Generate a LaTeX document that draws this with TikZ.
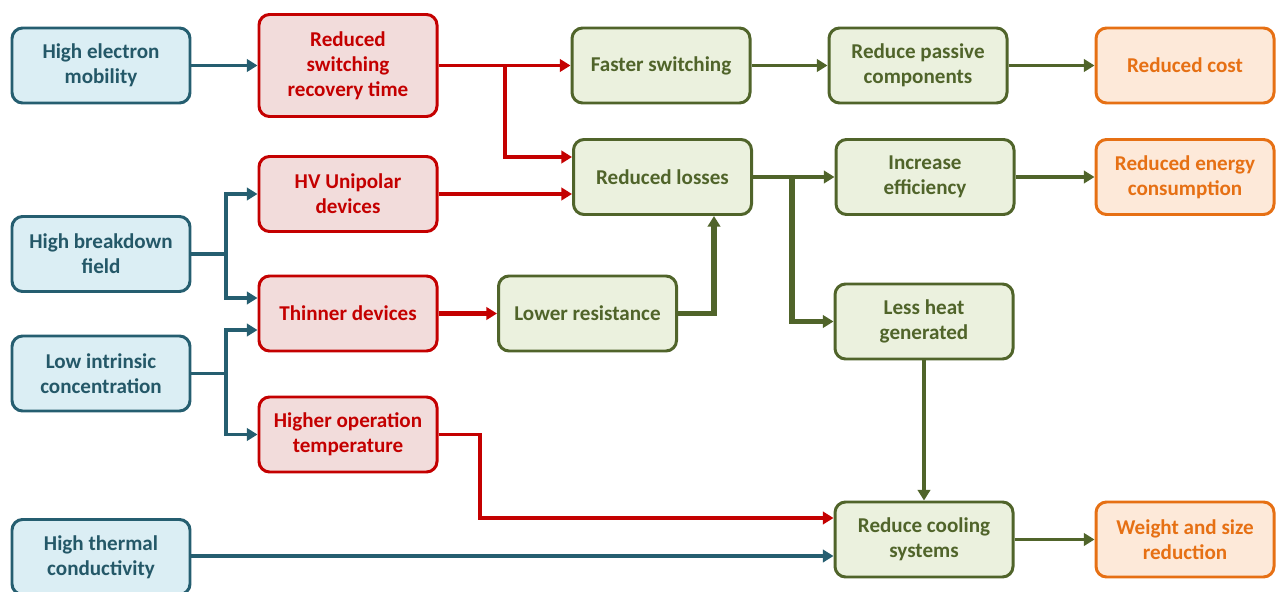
\documentclass[tikz,border=0pt]{standalone}
\usepackage{fontspec}
\setmainfont{Carlito}
\usepackage{tikz}
\usetikzlibrary{positioning, arrows.meta}
\usepackage{xcolor}
\definecolor{TealBorde}{RGB}{37,94,112}
\definecolor{TealFondo}{RGB}{219,238,244}
\definecolor{TealTexto}{RGB}{36,88,104}
\definecolor{RojoBorde}{RGB}{196,0,0}
\definecolor{RojoFondo}{RGB}{242,220,219}
\definecolor{VerdeBorde}{RGB}{80,100,42}
\definecolor{VerdeFondo}{RGB}{235,241,222}
\definecolor{NaranjaBorde}{RGB}{230,112,20}
\definecolor{NaranjaFondo}{RGB}{253,233,217}
\tikzset{%
  caja/.style     ={rectangle, rounded corners=6pt, line width=1.7pt, align=center,
                    minimum width=3.56cm, minimum height=1.5cm, inner sep=2pt,
                    font=\bfseries\fontsize{12}{14.3}\selectfont},
  causa/.style    ={caja, draw=TealBorde, fill=TealFondo, text=TealTexto},
  mecan/.style    ={caja, draw=RojoBorde, fill=RojoFondo, text=RojoBorde},
  efecto/.style   ={caja, draw=VerdeBorde, fill=VerdeFondo, text=VerdeBorde},
  meta/.style     ={caja, draw=NaranjaBorde, fill=NaranjaFondo, text=NaranjaBorde},
  flarr/.style    ={-{Triangle[length=6pt, width=7pt]}, line width=2pt},
  azul/.style     ={flarr, draw=TealBorde},
  rojo/.style     ={flarr, draw=RojoBorde},
  verde/.style    ={flarr, draw=VerdeBorde},
  grueso/.style   ={line width=2.9pt}
}
\begin{document}
\begin{tikzpicture}
  \useasboundingbox (0,0) rectangle (25.58,-11.84);
  % materials
  \node[causa] (hem) at (2.02,-1.31) {High electron\\mobility};
  \node[causa] (hbf) at (2.02,-5.08) {High breakdown\\field};
  \node[causa] (lic) at (2.02,-7.47) {Low intrinsic\\concentration};
  \node[causa] (htc) at (2.02,-11.14) {High thermal\\conductivity};
  % devices
  \node[mecan, minimum height=2.04cm] (rsrt) at (6.96,-1.31) {Reduced\\switching\\recovery time};
  \node[mecan] (hvu) at (6.96,-3.88) {HV Unipolar\\devices};
  \node[mecan] (td)  at (6.96,-6.27) {Thinner devices};
  \node[mecan] (hot) at (6.96,-8.69) {Higher operation\\temperature};
  % system effects
  \node[efecto] (lr)  at (11.75,-6.27) {Lower resistance};
  \node[efecto] (fs)  at (13.22,-1.31) {Faster switching};
  \node[efecto] (rl)  at (13.25,-3.54) {Reduced losses};
  \node[efecto] (rpc) at (18.36,-1.31) {Reduce passive\\components};
  \node[efecto] (ie)  at (18.50,-3.54) {Increase\\efficiency};
  \node[efecto] (lhg) at (18.48,-6.43) {Less heat\\generated};
  \node[efecto] (rcs) at (18.48,-10.79) {Reduce cooling\\systems};
  % outcomes
  \node[meta] (rc)  at (23.70,-1.31) {Reduced cost};
  \node[meta] (rec) at (23.70,-3.54) {Reduced energy\\consumption};
  \node[meta] (wsr) at (23.70,-10.79) {Weight and size\\reduction};
  % branch points
  \coordinate (sw) at (10.10,-1.31);
  \coordinate (bd) at (4.52,-5.08);
  \coordinate (ic) at (4.52,-7.47);
  \coordinate (rs) at (14.28,-6.27);
  \coordinate (ls) at (15.84,-3.54);
  \coordinate (ot) at (9.60,-8.69);
  % connectors
  \draw[azul] (hem) -- (rsrt);
  \draw[rojo] (rsrt.east) -- (fs.west);
  \draw[rojo] (sw) |- ([yshift=0.40cm]rl.west);
  \draw[rojo] (hvu.east) -- (hvu.east -| rl.west);
  \draw[azul] (hbf.east) -- (bd) |- (hvu.west);
  \draw[azul] (bd) |- ([yshift=0.31cm]td.west);
  \draw[azul] (lic.east) -- (ic) |- ([yshift=-0.33cm]td.west);
  \draw[azul] (ic) |- (hot.west);
  \draw[rojo, grueso] (td) -- (lr);
  \draw[verde, grueso] (lr.east) -- (rs) -- (rs |- rl.south);
  \draw[verde] (fs) -- (rpc);
  \draw[verde] (rpc) -- (rc);
  \draw[verde] (rl.east) -- (rl.east -| ie.west);
  \draw[verde, grueso] (ls) |- (lhg.west);
  \draw[verde] (ie) -- (rec);
  \draw[verde] (lhg) -- (rcs);
  \draw[rojo] (hot.east) -- (ot) |- ([yshift=0.43cm]rcs.west);
  \draw[azul] (htc.east |- 0,-11.12) -- (rcs.west |- 0,-11.12);
  \draw[verde] (rcs) -- (wsr);
\end{tikzpicture}
\end{document}
